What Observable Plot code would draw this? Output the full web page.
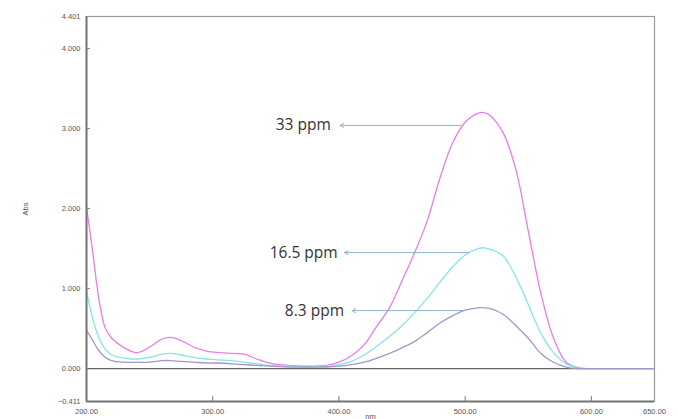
<!DOCTYPE html>
<html>
<head>
<meta charset="utf-8">
<script src="https://cdn.jsdelivr.net/npm/d3@7"></script>
<script src="https://cdn.jsdelivr.net/npm/@observablehq/plot@0.6"></script>
<style>
  html, body { margin: 0; padding: 0; background: #fff; }
  #chart { width: 678px; height: 419px; }
</style>
</head>
<body>
<div id="chart"></div>
<script>
// Wavelength grid (nm)
const wavelengths = [200,205,210,215,220,230,240,250,260,267,275,285,295,305,315,325,335,345,360,375,390,400,410,420,430,440,450,460,470,480,490,500,510,515,520,530,540,550,560,570,580,590,600,625,650];
// Absorbance, 33 ppm (magenta)
const abs33 = [2.02,1.45,0.85,0.50,0.38,0.26,0.20,0.27,0.37,0.39,0.35,0.27,0.22,0.20,0.19,0.18,0.12,0.07,0.04,0.03,0.04,0.08,0.16,0.30,0.53,0.76,1.10,1.45,1.85,2.38,2.82,3.08,3.19,3.20,3.16,2.95,2.50,1.72,0.94,0.38,0.08,0.01,0.00,0.00,0.00];
// Absorbance, 16.5 ppm (cyan)
const abs16 = [0.97,0.62,0.38,0.24,0.17,0.13,0.12,0.14,0.18,0.19,0.17,0.14,0.12,0.11,0.10,0.08,0.06,0.04,0.03,0.02,0.03,0.05,0.09,0.17,0.28,0.40,0.54,0.70,0.88,1.08,1.27,1.42,1.50,1.51,1.49,1.41,1.15,0.80,0.44,0.20,0.06,0.01,0.00,0.00,0.00];
// Absorbance, 8.3 ppm (purple)
const abs8 = [0.48,0.35,0.22,0.14,0.10,0.08,0.08,0.08,0.10,0.10,0.09,0.08,0.07,0.07,0.06,0.05,0.04,0.03,0.02,0.02,0.02,0.03,0.05,0.08,0.13,0.19,0.26,0.34,0.45,0.57,0.66,0.73,0.76,0.76,0.75,0.68,0.54,0.38,0.19,0.08,0.02,0.00,0.00,0.00,0.00];

const seriesNames = ["33 ppm", "16.5 ppm", "8.3 ppm"];
const seriesColors = ["#e77ee6", "#86e6e6", "#a496c8"];

// Tick labels
const xTicks = [200, 300, 400, 500, 600, 650];
const yTicks = [-0.411, 0, 1, 2, 3, 4, 4.401];

// Annotations: label, y level, text end x, arrow tip x, arrow start x (on curve)
const annLabels = ["33 ppm", "16.5 ppm", "8.3 ppm"];
const annY = [3.04, 1.45, 0.725];
const annTextX = [393.5, 399, 404];
const annTipX = [401, 404.5, 410.5];
const annStartX = [497, 503, 500];

const series = [abs33, abs16, abs8];
const rows = [];
series.forEach((vals, s) => vals.forEach((v, i) => rows.push({nm: wavelengths[i], abs: v, s: seriesNames[s]})));
const ann = annLabels.map((l, i) => ({label: l, y: annY[i], tx: annTextX[i], tip: annTipX[i], start: annStartX[i]}));

const xDomain = [200, 650];
const yDomain = [-0.411, 4.401];

const chart = Plot.plot({
  width: 678,
  height: 419,
  marginLeft: 86,
  marginRight: 24,
  marginTop: 16,
  marginBottom: 18,
  style: {fontFamily: "Liberation Sans, sans-serif", background: "#fff"},
  x: {domain: xDomain},
  y: {domain: yDomain},
  color: {domain: seriesNames, range: seriesColors},
  marks: [
    Plot.axisX({ticks: xTicks, tickFormat: d3.format(".2f"), tickSize: 0, tickPadding: 7, fontSize: 7.5, color: "#555",
      label: "nm", labelAnchor: "center", labelOffset: 17, labelArrow: "none"}),
    Plot.axisY({ticks: yTicks, tickFormat: d3.format(".3f"), tickSize: 0, tickPadding: 6, fontSize: 7.5, color: "#555",
      label: "Abs", labelAnchor: "center", labelOffset: 64, labelArrow: "none"}),
    Plot.ruleX(xTicks.slice(1, -1), {y1: yDomain[0], y2: yDomain[0] + 0.06, stroke: "#777"}),
    Plot.ruleY(yTicks.slice(1, -1), {x1: xDomain[0], x2: xDomain[0] + 3, stroke: "#777"}),
    Plot.ruleY([0], {stroke: "#666", strokeWidth: 1.2}),
    Plot.frame({stroke: "#999", strokeWidth: 1.2}),
    Plot.line(rows, {x: "nm", y: "abs", z: "s", stroke: "s", strokeWidth: 1.3, curve: "catmull-rom"}),
    Plot.ruleX([xDomain[0]], {stroke: "#777", strokeWidth: 2}),
    Plot.ruleY([yDomain[0]], {stroke: "#777", strokeWidth: 2}),
    Plot.arrow(ann, {x1: "start", x2: "tip", y1: "y", y2: "y", stroke: "#8fb0cf", strokeWidth: 1, headLength: 6, bend: 0}),
    Plot.text(ann, {x: "tx", y: "y", text: "label", textAnchor: "end", fontSize: 15.5, fill: "#333",
      fontFamily: "Open Sans, sans-serif"})
  ]
});
document.getElementById("chart").appendChild(chart);
</script>
</body>
</html>
